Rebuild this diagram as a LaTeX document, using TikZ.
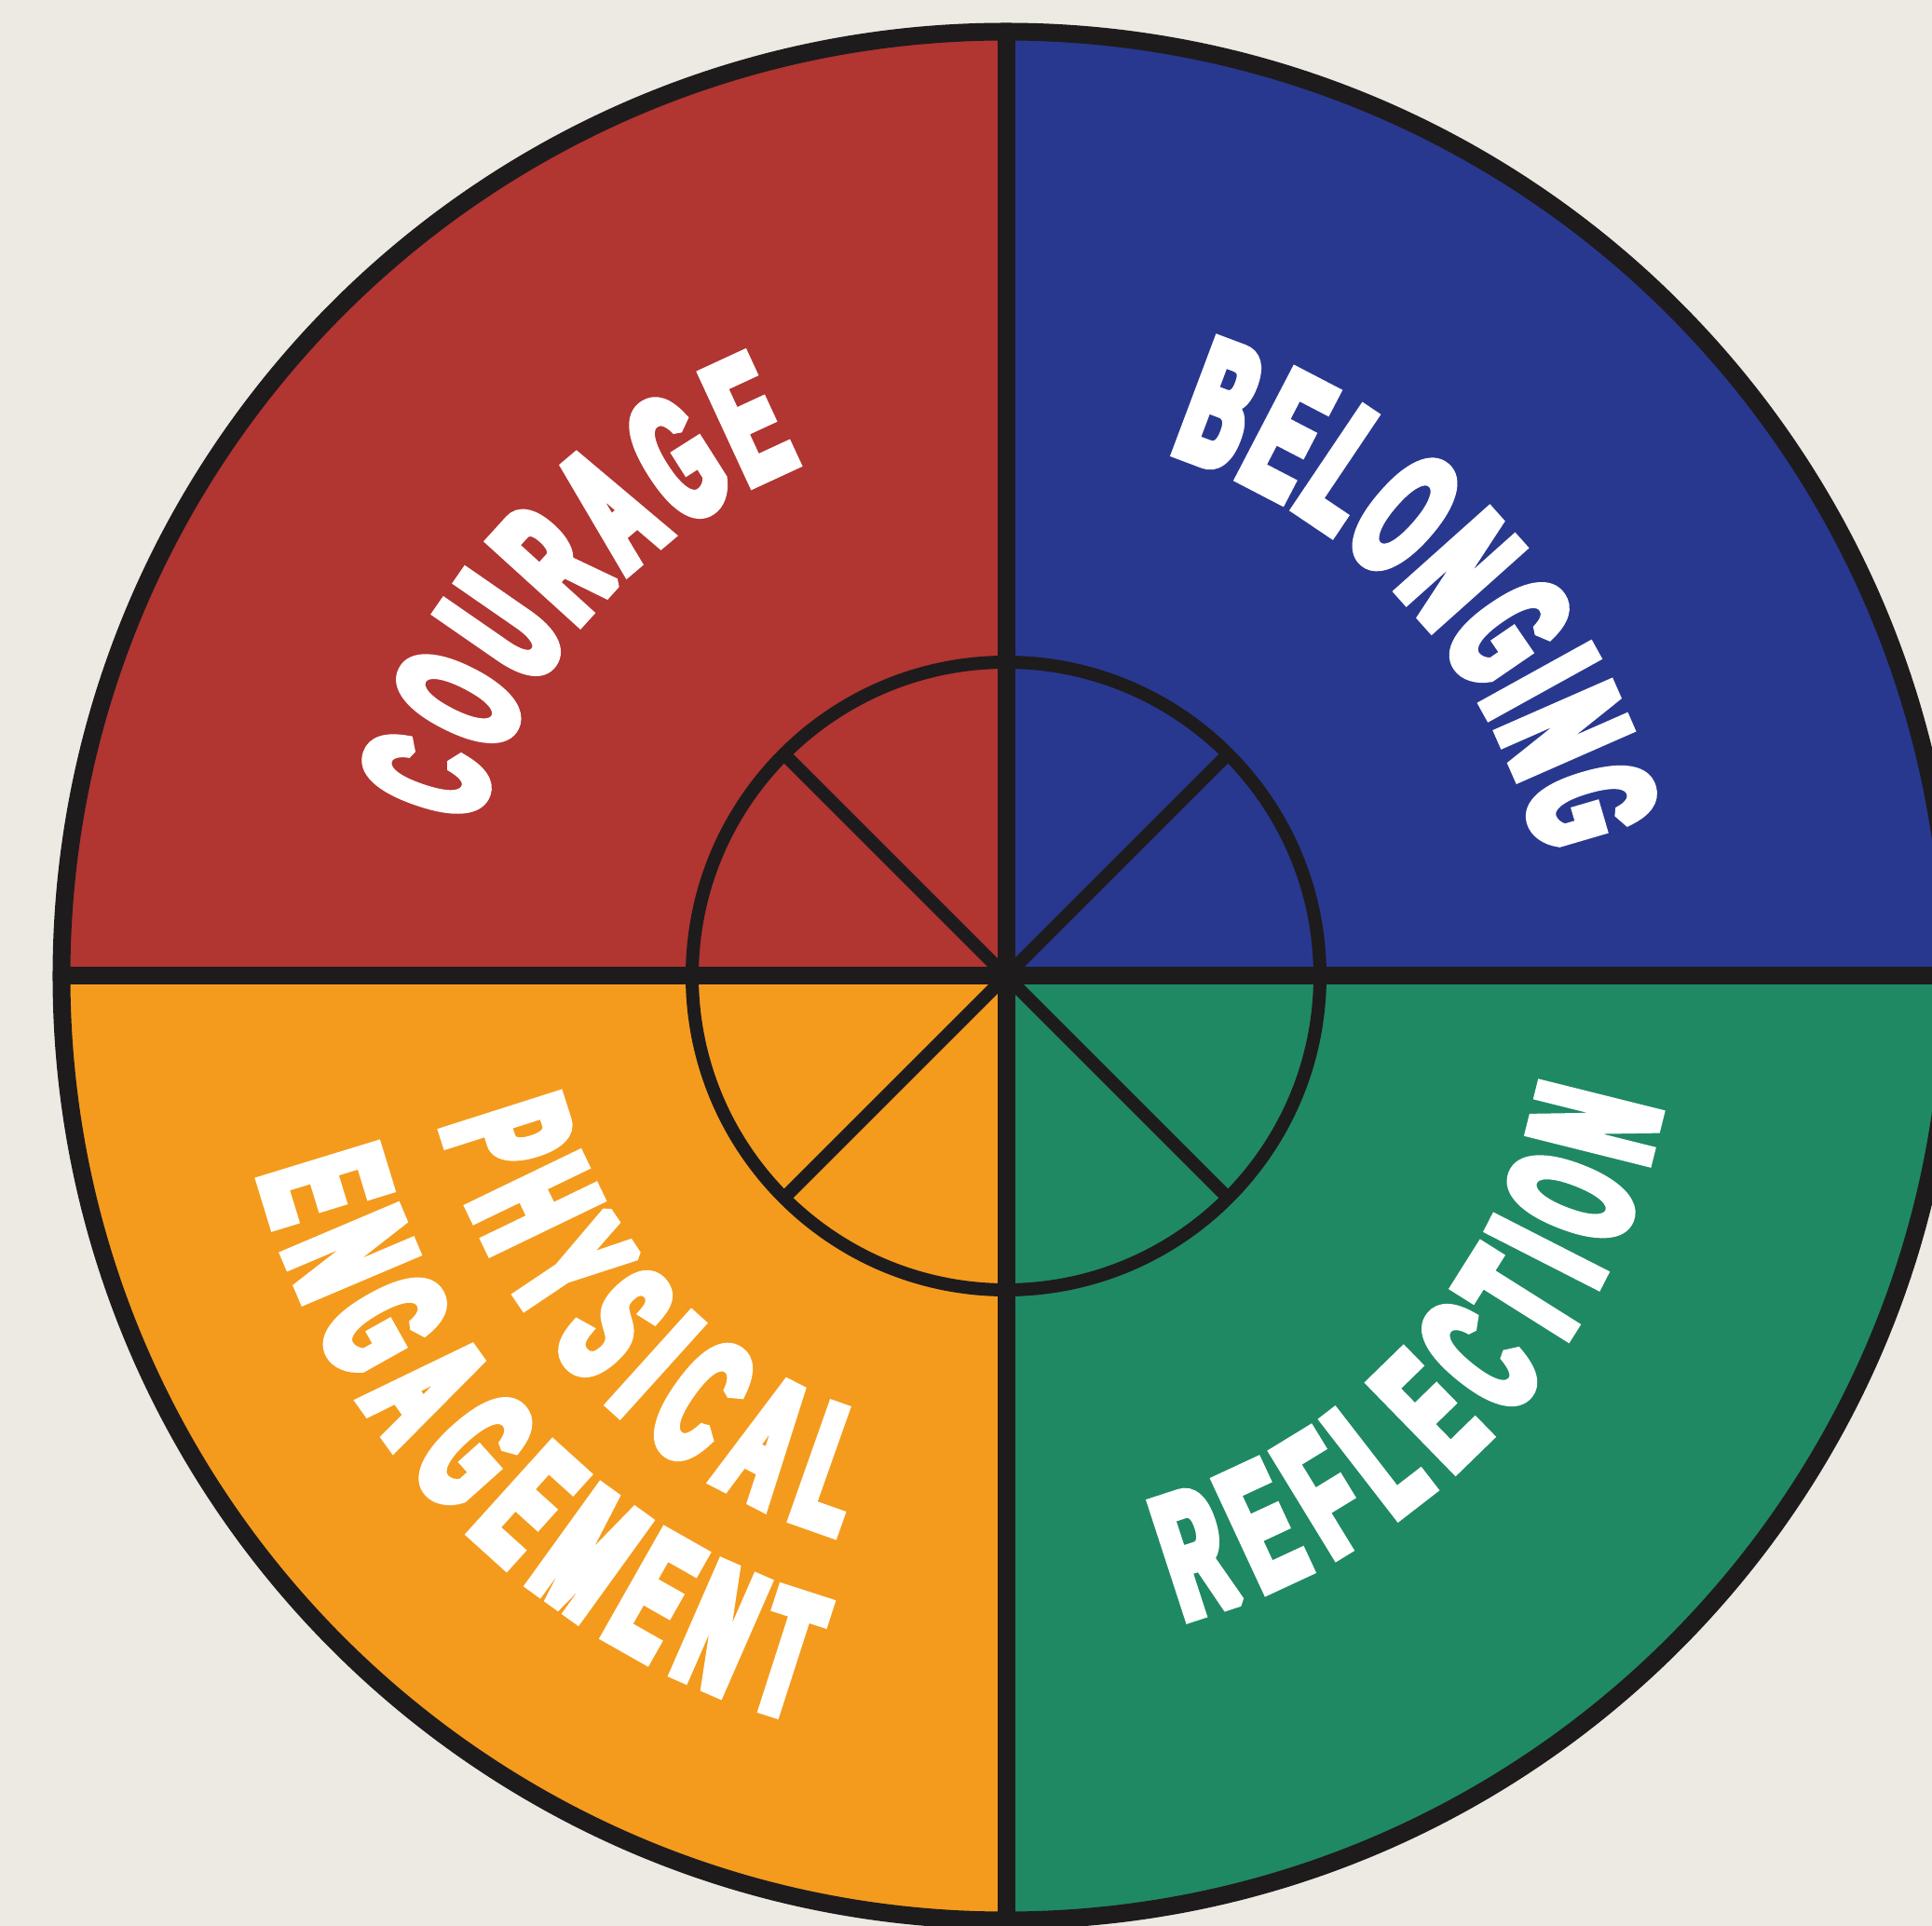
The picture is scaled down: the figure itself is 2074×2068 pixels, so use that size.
\documentclass[tikz,border=0pt]{standalone}
\usepackage{fontspec}
\usetikzlibrary{decorations.text}
\newfontfamily\wheelfont[FakeStretch=0.47,FakeBold=6]{Liberation Sans Bold}
\definecolor{bgc}{HTML}{EDE9E3}
\definecolor{cred}{HTML}{B13531}
\definecolor{cblue}{HTML}{29388F}
\definecolor{cgreen}{HTML}{1F8964}
\definecolor{corange}{HTML}{F49B1D}
\definecolor{ink}{HTML}{1E1B1D}
\tikzset{
  wheeltext/.style={decorate, decoration={text along path, text align={fit to path}, text color=white}},
  heavyline/.style={draw=ink, line width=19pt},
  thinline/.style={draw=ink, line width=14pt, line cap=round},
}
\newcommand{\wfont}{\special{pdf:literal direct 0 j 0 J 1.6 M}\wheelfont\fontsize{188}{188}\selectfont}
\begin{document}
\begin{tikzpicture}[x=1pt,y=1pt]
\useasboundingbox (-1080,-1020) rectangle (994,1048);
\clip (-1080,-1020) rectangle (994,1048);
\fill[bgc] (-1080,-1020) rectangle (994,1048);
\coordinate (c) at (0,0);
\def\R{1014pt}
\def\r{337pt}
% quadrants
\fill[cred] (c) -- (180:\R) arc[start angle=180,end angle=90,radius=\R] -- cycle;
\fill[cblue] (c) -- (90:\R) arc[start angle=90,end angle=0,radius=\R] -- cycle;
\fill[cgreen] (c) -- (0:\R) arc[start angle=0,end angle=-90,radius=\R] -- cycle;
\fill[corange] (c) -- (-90:\R) arc[start angle=-90,end angle=-180,radius=\R] -- cycle;
% named points
\coordinate (W) at (180:\R);
\coordinate (E) at (0:\R);
\coordinate (N) at (90:\R);
\coordinate (S) at (-90:\R);
\coordinate (s1) at (45:\r);
\coordinate (s2) at (135:\r);
\coordinate (s3) at (225:\r);
\coordinate (s4) at (315:\r);
% lines
\draw[heavyline] (W) -- (E);
\draw[heavyline] (N) -- (S);
\draw[thinline] (c) -- (s1);
\draw[thinline] (c) -- (s2);
\draw[thinline] (c) -- (s3);
\draw[thinline] (c) -- (s4);
\draw[thinline] (c) circle[radius=\r];
\draw[heavyline] (c) circle[radius=\R];
% texts
\path[wheeltext, decoration={text={|\wfont|COURAGE}}] (164:594pt) arc[start angle=164,end angle=112,radius=594pt];
\path[wheeltext, decoration={text={|\wfont|BELONGING}}] (72.5:590pt) arc[start angle=72.5,end angle=13,radius=590pt];
\path[wheeltext, decoration={text={|\wfont|REFLECTION}}] (-74.5:716pt) arc[start angle=-74.5,end angle=-11.5,radius=716pt];
\path[wheeltext, decoration={text={|\wfont|PHYSICAL}}] (195:626pt) arc[start angle=195,end angle=253,radius=626pt];
\path[wheeltext, decoration={text={|\wfont|ENGAGEMENT}}] (195:829pt) arc[start angle=195,end angle=254,radius=829pt];
\end{tikzpicture}
\end{document}
